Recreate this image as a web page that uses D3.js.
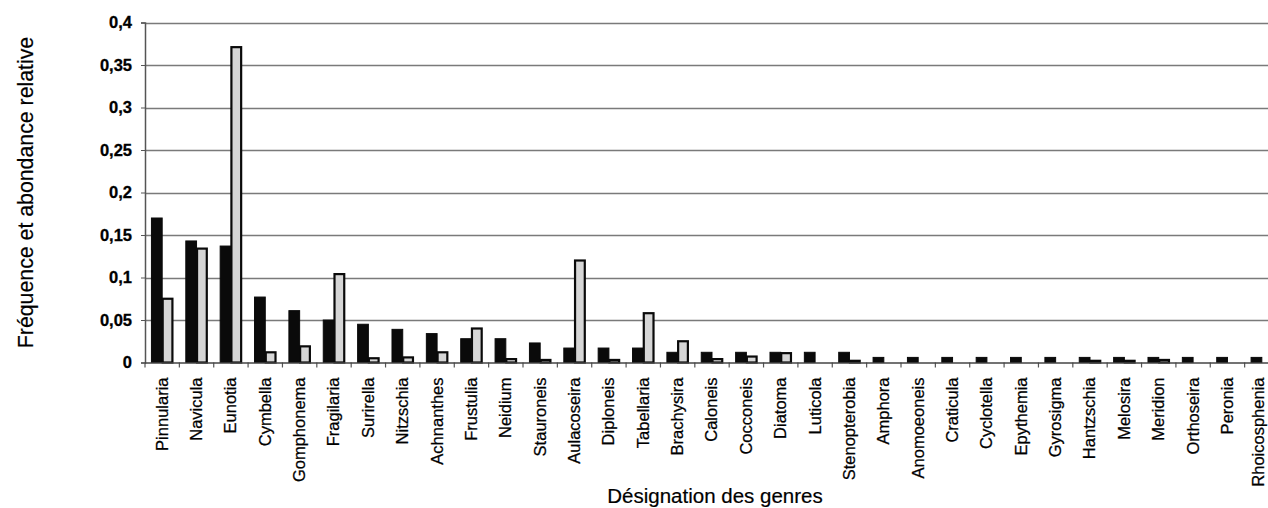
<!DOCTYPE html>
<html>
<head>
<meta charset="utf-8">
<script src="https://cdn.jsdelivr.net/npm/d3@7"></script>
<style>
  html, body { margin: 0; padding: 0; background: #fff; }
  svg { display: block; }
  text { font-family: "Liberation Sans", Arial, sans-serif; fill: #000; }
</style>
</head>
<body>
<svg id="chart" width="1268" height="508"></svg>
<script>
const categories = ["Pinnularia","Navicula","Eunotia","Cymbella","Gomphonema","Fragilaria","Surirella","Nitzschia","Achnanthes","Frustulia","Neidium","Stauroneis","Aulacoseira","Diploneis","Tabellaria","Brachysira","Caloneis","Cocconeis","Diatoma","Luticola","Stenopterobia","Amphora","Anomoeoneis","Craticula","Cyclotella","Epythemia","Gyrosigma","Hantzschia","Melosira","Meridion","Orthoseira","Peronia","Rhoicosphenia"];
const frequence = [0.170,0.143,0.137,0.077,0.061,0.050,0.045,0.039,0.034,0.028,0.028,0.023,0.017,0.017,0.017,0.012,0.012,0.012,0.012,0.012,0.012,0.006,0.006,0.006,0.006,0.006,0.006,0.006,0.006,0.006,0.006,0.006,0.006];
const abondance = [0.075,0.134,0.371,0.012,0.019,0.104,0.005,0.006,0.012,0.040,0.004,0.003,0.120,0.003,0.058,0.025,0.004,0.007,0.011,0,0.002,0,0,0,0,0,0,0.002,0.002,0.003,0,0,0];
const yTicks = [0,0.05,0.1,0.15,0.2,0.25,0.3,0.35,0.4];
const yTickLabels = ["0","0,05","0,1","0,15","0,2","0,25","0,3","0,35","0,4"];
const series = ["frequence","abondance"];

const svg = d3.select("#chart");
const mLeft = 145, mRight = 1279, mTop = 22.5, mBottom = 362.5;

const x = d3.scaleBand().domain(categories).range([mLeft, mRight]).paddingInner(0.375).paddingOuter(0.1875);
const xs = d3.scaleBand().domain(series).range([0, x.bandwidth()]);
const y = d3.scaleLinear().domain([0, 0.4]).range([mBottom, mTop]);

svg.append("rect").attr("width",1268).attr("height",508).attr("fill","#fff");

// gridlines
svg.append("g").selectAll("line").data(yTicks.filter(d => d > 0)).join("line")
  .attr("x1", mLeft).attr("x2", mRight)
  .attr("y1", d => Math.round(y(d)) + 0.5).attr("y2", d => Math.round(y(d)) + 0.5)
  .attr("stroke", "#7a7a7a").attr("stroke-width", 1.3);

// y axis
const yAxis = d3.axisLeft(y).tickValues(yTicks).tickSize(4).tickPadding(9)
  .tickFormat((d, i) => yTickLabels[i]);
const gy = svg.append("g").attr("transform", `translate(${mLeft},0)`).call(yAxis);
gy.select(".domain").attr("stroke", "#555").attr("stroke-width", 1.5);
gy.selectAll(".tick line").attr("stroke", "#555");
gy.selectAll(".tick text").attr("font-size", "16.5px").attr("font-weight", "bold")
  .attr("stroke", "#000").attr("stroke-width", 0.3)
  .style("font-family", '"Liberation Sans", Arial, sans-serif');

// bars
const groups = svg.append("g").selectAll("g").data(categories).join("g")
  .attr("transform", d => `translate(${x(d)},0)`);

groups.append("rect")
  .attr("x", xs("frequence"))
  .attr("width", xs.bandwidth())
  .attr("y", (d, i) => y(frequence[i]))
  .attr("height", (d, i) => y(0) - y(frequence[i]))
  .attr("fill", "#0a0a0a").attr("stroke", "#0a0a0a").attr("stroke-width", 1);

groups.filter((d, i) => abondance[i] > 0).append("rect")
  .attr("x", xs("abondance") + 0.5)
  .attr("width", xs.bandwidth() - 1)
  .attr("y", d => y(abondance[categories.indexOf(d)]))
  .attr("height", d => y(0) - y(abondance[categories.indexOf(d)]))
  .attr("fill", "#d6d6d6").attr("stroke", "#0a0a0a").attr("stroke-width", 2.2);

// x axis
const xAxis = d3.axisBottom(x).tickSize(0).tickPadding(0);
const gx = svg.append("g").attr("transform", `translate(0,${mBottom})`).call(xAxis);
gx.select(".domain").remove();
gx.selectAll(".tick text")
  .attr("transform", "rotate(-90)")
  .attr("x", -15).attr("y", (d, i) => i === categories.length - 1 ? -3.5 : 0).attr("dy", "0.33em")
  .attr("text-anchor", "end")
  .attr("font-size", "16.5px")
  .attr("stroke", "#000").attr("stroke-width", 0.25)
  .style("font-family", '"Liberation Sans", Arial, sans-serif');

// baseline and category ticks
const step = x.step();
const boundaries = d3.range(categories.length + 1).map(i => mLeft + i * step);
svg.append("g").selectAll("line").data(boundaries).join("line")
  .attr("x1", d => d).attr("x2", d => d)
  .attr("y1", mBottom).attr("y2", mBottom + 5)
  .attr("stroke", "#555").attr("stroke-width", 1.2);
svg.append("line").attr("x1", mLeft).attr("x2", mRight)
  .attr("y1", mBottom + 0.5).attr("y2", mBottom + 0.5)
  .attr("stroke", "#444").attr("stroke-width", 1.5);

// axis titles
svg.append("text")
  .attr("transform", `translate(33,${(mTop + mBottom) / 2}) rotate(-90)`)
  .attr("text-anchor", "middle")
  .attr("font-size", "21.3px")
  .attr("stroke", "#000").attr("stroke-width", 0.2)
  .text("Fréquence et abondance relative");

svg.append("text")
  .attr("x", 715).attr("y", 503)
  .attr("text-anchor", "middle")
  .attr("font-size", "20.5px")
  .attr("stroke", "#000").attr("stroke-width", 0.2)
  .text("Désignation des genres");
</script>
</body>
</html>
